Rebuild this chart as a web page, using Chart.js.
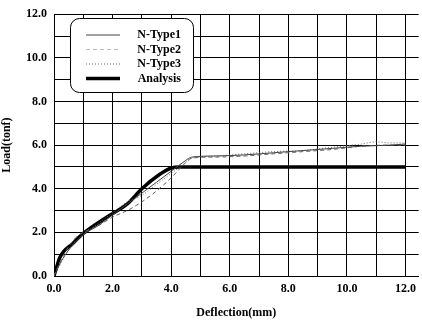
<!DOCTYPE html>
<html>
<head>
<meta charset="utf-8">
<script src="https://cdn.jsdelivr.net/npm/chart.js@4.4.1/dist/chart.umd.min.js"></script>
<style>
  html, body { margin: 0; padding: 0; background: #fff; }
  #wrap { width: 422px; height: 320px; }
</style>
</head>
<body>
<div id="wrap"><canvas id="chart"></canvas></div>
<script>
// test curves (deflection mm, load tonf)
const type1X = [0, 0.3, 1.0, 1.5, 2.0, 2.5, 3.0, 3.5, 4.0, 4.5, 4.7, 5.5, 6.5, 7.5, 8.5, 9.5, 10.5, 11.5, 12.0];
const type1Y = [0, 0.8, 1.9, 2.3, 2.8, 3.3, 3.8, 4.3, 4.8, 5.3, 5.45, 5.5, 5.55, 5.65, 5.75, 5.85, 5.95, 6.0, 6.05];

const type2X = [0, 0.3, 0.7, 1.0, 1.5, 2.0, 2.5, 3.0, 3.5, 4.0, 4.5, 4.7, 5.5, 6.5, 7.5, 8.5, 9.5, 10.5, 11.5, 12.0];
const type2Y = [0, 0.9, 1.7, 2.0, 2.3, 2.7, 3.0, 3.4, 3.9, 4.5, 5.2, 5.4, 5.45, 5.5, 5.6, 5.7, 5.8, 5.95, 6.0, 6.0];

const type3X = [0, 0.5, 1.0, 1.5, 2.0, 2.5, 3.0, 3.5, 4.0, 4.4, 4.7, 5.5, 6.5, 7.5, 8.5, 9.5, 10.5, 11.0, 11.5, 12.0];
const type3Y = [0, 1.2, 1.9, 2.4, 2.9, 3.4, 3.7, 4.2, 4.7, 5.1, 5.4, 5.5, 5.6, 5.7, 5.75, 5.9, 6.05, 6.15, 6.1, 6.1];

const analysisX = [0, 0.2, 0.65, 1.0, 1.8, 2.5, 3.0, 3.6, 4.0, 4.3, 12.0];
const analysisY = [0, 0.85, 1.5, 1.95, 2.7, 3.3, 4.0, 4.65, 4.95, 5.0, 5.0];

const seriesLabels = ['N-Type1', 'N-Type2', 'N-Type3', 'Analysis'];
const xTicks = [0, 1, 2, 3, 4, 5, 6, 7, 8, 9, 10, 11, 12];

const toPoints = (xs, ys) => xs.map((x, i) => ({ x: x, y: ys[i] }));

const serif = '"Liberation Serif", "DejaVu Serif", serif';

// rounded legend box in the upper left, drawn by hand
const boxLegend = {
    id: 'boxLegend',
    afterDraw(chart) {
        const ctx = chart.ctx;
        const left = 70, top = 18, w = 123, h = 74, r = 9;
        ctx.save();
        ctx.beginPath();
        ctx.roundRect(left + 0.5, top + 0.5, w, h, r);
        ctx.fillStyle = '#fff';
        ctx.fill();
        ctx.lineWidth = 1;
        ctx.strokeStyle = '#000';
        ctx.stroke();

        ctx.font = 'bold 12px ' + serif;
        ctx.textAlign = 'right';
        ctx.textBaseline = 'middle';
        chart.data.datasets.forEach((ds, i) => {
            const y = top + 17 + i * 14.5;
            ctx.beginPath();
            ctx.setLineDash(ds.borderDash || []);
            ctx.lineWidth = ds.borderWidth;
            ctx.strokeStyle = i === 1 ? '#bbb' : ds.borderColor;
            ctx.moveTo(86, y);
            ctx.lineTo(120, y);
            ctx.stroke();
            ctx.setLineDash([]);
            ctx.fillStyle = '#000';
            ctx.fillText(ds.label, 181, y);
        });
        ctx.restore();
    }
};

new Chart(document.getElementById('chart'), {
    type: 'line',
    data: {
        datasets: [
            { label: seriesLabels[0], data: toPoints(type1X, type1Y), borderColor: '#444', borderWidth: 1 },
            { label: seriesLabels[1], data: toPoints(type2X, type2Y), borderColor: '#666', borderWidth: 1, borderDash: [4, 3] },
            { label: seriesLabels[2], data: toPoints(type3X, type3Y), borderColor: '#666', borderWidth: 1, borderDash: [1, 2] },
            { label: seriesLabels[3], data: toPoints(analysisX, analysisY), borderColor: '#000', borderWidth: 3.5 }
        ]
    },
    options: {
        responsive: true,
        maintainAspectRatio: false,
        animation: false,
        elements: { point: { radius: 0 }, line: { cubicInterpolationMode: 'monotone' } },
        layout: { padding: { top: 2, right: 0, left: 0, bottom: 0 } },
        plugins: {
            legend: { display: false },
            tooltip: { enabled: false }
        },
        scales: {
            x: {
                type: 'linear',
                min: 0,
                max: 12.45,
                afterBuildTicks: scale => { scale.ticks = xTicks.map(v => ({ value: v })); },
                afterFit: scale => { scale.height = 44; },
                grid: { color: '#000', lineWidth: 1, drawTicks: false },
                border: { color: '#000' },
                ticks: {
                    color: '#000',
                    padding: 6,
                    maxRotation: 0,
                    autoSkip: false,
                    font: { family: serif, size: 12, weight: 'bold' },
                    callback: v => (v % 2 === 0 ? v.toFixed(1) : '')
                },
                title: {
                    display: true,
                    text: 'Deflection(mm)',
                    color: '#000',
                    padding: { top: 2, bottom: 0 },
                    font: { family: serif, size: 12, weight: 'bold' }
                }
            },
            y: {
                min: 0,
                max: 12,
                afterFit: scale => { scale.width = 54; },
                grid: { color: '#000', lineWidth: 1, drawTicks: false },
                border: { color: '#000' },
                ticks: {
                    stepSize: 1,
                    color: '#000',
                    padding: 7,
                    autoSkip: false,
                    font: { family: serif, size: 12, weight: 'bold' },
                    callback: v => (v % 2 === 0 ? v.toFixed(1) : '')
                },
                title: {
                    display: true,
                    text: 'Load(tonf)',
                    color: '#000',
                    padding: 0,
                    font: { family: serif, size: 12, weight: 'bold' }
                }
            }
        }
    },
    plugins: [boxLegend]
});
</script>
</body>
</html>
